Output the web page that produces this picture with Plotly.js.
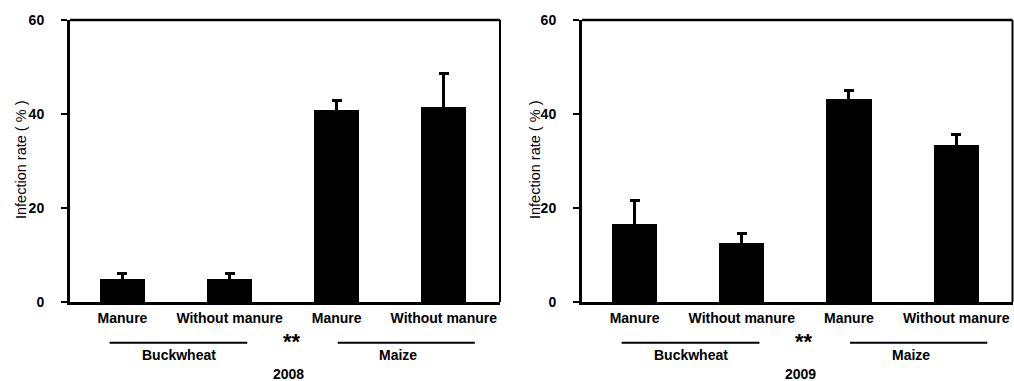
<!DOCTYPE html>
<html>
<head>
<meta charset="utf-8">
<script src="https://cdn.plot.ly/plotly-3.0.1.min.js"></script>
<style>html,body{margin:0;padding:0;background:#fff}#chart{width:1014px;height:381px}</style>
</head>
<body>
<div id="chart"></div>
<script>
// ---- data ----
const categories = ["Manure", "Without manure", "Manure", "Without manure"];
const crops = ["Buckwheat", "Maize"];
const years = ["2008", "2009"];
const rate2008 = [4.8, 4.8, 40.8, 41.5];
const err2008 = [1.3, 1.3, 2.0, 7.2];
const rate2009 = [16.7, 12.6, 43.2, 33.3];
const err2009 = [5.0, 2.0, 1.9, 2.4];
const yTicks = [0, 20, 40, 60];
const yTitle = "Infection rate ( % )";
const signif = "**";

// ---- layout helpers ----
const W = 1014, H = 381, plotTop = 20, plotBottom = 302;
const py = px => (plotBottom - px) / (plotBottom - plotTop);   // pixel row -> paper y
const font = {family: "Liberation Sans, Arial, sans-serif", size: 14, color: "#000", weight: "bold"};
const starFont = Object.assign({}, font, {size: 22});
const titleFont = {family: "Liberation Sans, Arial, sans-serif", size: 14.5, color: "#000", weight: "normal"};
const xpos = categories.map((_, i) => i);

function barTrace(vals, errs, ax) {
  // symmetric error bars: the lower half is hidden inside the black bar
  return {
    type: "bar", x: xpos, y: vals, xaxis: ax.x, yaxis: ax.y,
    width: 0.42, marker: {color: "#000", line: {width: 0}},
    error_y: {type: "data", array: errs, symmetric: true,
              color: "#000", thickness: 3, width: 5},
    hoverinfo: "skip", showlegend: false
  };
}

const data = [
  barTrace(rate2008, err2008, {x: "x", y: "y"}),
  barTrace(rate2009, err2009, {x: "x2", y: "y2"})
];

function xaxisDef(domain, anchor) {
  return {
    domain: domain, anchor: anchor, range: [-0.49, 3.525],
    tickmode: "array", tickvals: xpos, ticktext: categories,
    showline: true, linewidth: 3, linecolor: "#000", ticks: "",
    ticklabelstandoff: 1,
    showgrid: false, zeroline: false, tickfont: font, fixedrange: true
  };
}
function yaxisDef(anchor) {
  return {
    anchor: anchor, domain: [0, 1], range: [0, 60],
    tickmode: "array", tickvals: yTicks, ticktext: yTicks.map(String),
    showline: true, linewidth: 3, linecolor: "#000",
    ticks: "outside", ticklen: 6, tickwidth: 2.5, tickcolor: "#000",
    ticklabelstandoff: 14,
    showgrid: false, zeroline: false, tickfont: font, fixedrange: true
  };
}

const panels = [
  {xa: "x", ya: "y", dom: [70 / W, 500 / W], titleX: 21 / W, year: years[0]},
  {xa: "x2", ya: "y2", dom: [582 / W, 1012.5 / W], titleX: 535 / W, year: years[1]}
];

const shapes = [];
const annotations = [];
// group line / label positions in category units
const groupLines = [[-0.12, 1.165], [2.01, 3.29]];
const groupText = [0.53, 2.575];
panels.forEach(p => {
  const dref = p.xa + " domain";
  // top and right frame
  shapes.push({type: "line", xref: dref, yref: "paper", x0: 0, x1: 1, y0: 1, y1: 1,
               line: {color: "#000", width: 2.5}});
  shapes.push({type: "line", xref: dref, yref: "paper", x0: 1, x1: 1, y0: 0, y1: 1,
               line: {color: "#000", width: 2}});
  groupLines.forEach((g, k) => {
    shapes.push({type: "line", xref: p.xa, yref: "paper", x0: g[0], x1: g[1],
                 y0: py(342.7), y1: py(342.7), line: {color: "#000", width: 2}});
    annotations.push({xref: p.xa, yref: "paper", x: groupText[k], y: py(355),
                      text: crops[k], showarrow: false, font: font,
                      xanchor: "center", yanchor: "middle"});
  });
  annotations.push({xref: p.xa, yref: "paper", x: 1.58, y: py(341.5), text: signif,
                    showarrow: false, font: starFont, xanchor: "center", yanchor: "middle"});
  annotations.push({xref: p.xa, yref: "paper", x: 1.55, y: py(373.5), text: p.year,
                    showarrow: false, font: font, xanchor: "center", yanchor: "middle"});
  annotations.push({xref: "paper", yref: "paper", x: p.titleX, y: py(160),
                    text: yTitle, textangle: -90, showarrow: false, font: titleFont,
                    xanchor: "center", yanchor: "middle"});
});

const layout = {
  width: W, height: H,
  margin: {l: 0, r: 0, t: plotTop, b: H - plotBottom, pad: 0},
  paper_bgcolor: "#fff", plot_bgcolor: "#fff",
  font: font, showlegend: false, bargap: 0,
  xaxis: xaxisDef(panels[0].dom, "y"),
  yaxis: yaxisDef("x"),
  xaxis2: xaxisDef(panels[1].dom, "y2"),
  yaxis2: yaxisDef("x2"),
  shapes: shapes, annotations: annotations
};

Plotly.newPlot("chart", data, layout, {displayModeBar: false, staticPlot: true});
</script>
</body>
</html>
